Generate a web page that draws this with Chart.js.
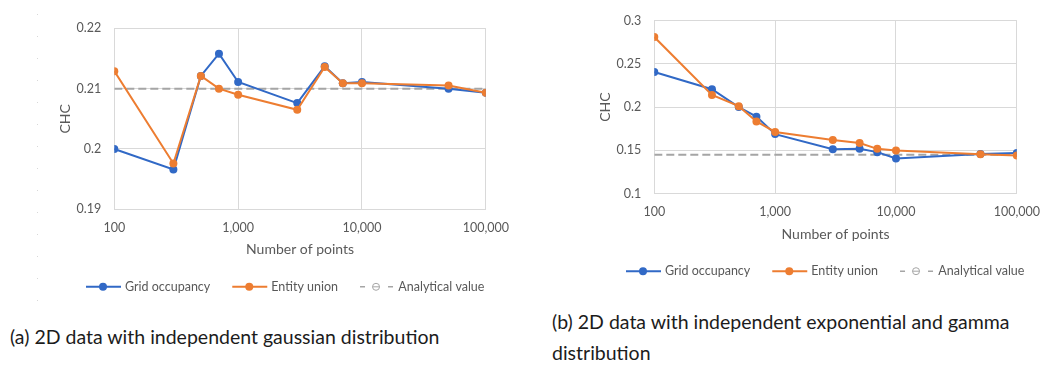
<!DOCTYPE html>
<html>
<head>
<meta charset="utf-8">
<script src="https://cdn.jsdelivr.net/npm/chart.js@4.4.1/dist/chart.umd.min.js"></script>
<style>
  html, body { margin: 0; padding: 0; background: #fff; }
  body { width: 1051px; height: 366px; position: relative; overflow: hidden; font-family: Lato, sans-serif; }
  .box { position: absolute; }
  .box canvas { display: block; }
  .cap { position: absolute; font-family: Lato, sans-serif; font-size: 19.5px; color: #1c1c1c; line-height: 31px; white-space: nowrap; }
  .dots { position: absolute; left: 37px; top: 14px; width: 1px; height: 292px;
          background: repeating-linear-gradient(to bottom, #d8d8d8 0 1px, transparent 1px 22px); }
</style>
</head>
<body>
<div class="dots"></div>
<div class="box" style="left:0;top:0;"><canvas id="chartA" width="520" height="310"></canvas></div>
<div class="box" style="left:540px;top:0;"><canvas id="chartB" width="511" height="300"></canvas></div>
<div class="cap" style="left:10px;top:321px;">(a) 2D data with independent gaussian distribution</div>
<div class="cap" style="left:552px;top:306px;">(b) 2D data with independent exponential and gamma<br>distribution</div>

<script>
// Sample sizes (number of points) shared by both experiments
const pointCounts = [100, 300, 500, 700, 1000, 3000, 5000, 7000, 10000, 50000, 100000];

// (a) independent gaussian distribution
const gridOccupancyA = [0.2000, 0.1966, 0.2121, 0.2158, 0.2111, 0.2076, 0.2137, 0.2109, 0.2111, 0.2100, 0.2093];
const entityUnionA   = [0.2129, 0.1976, 0.2121, 0.2100, 0.2090, 0.2065, 0.2136, 0.2109, 0.2109, 0.2105, 0.2093];
const analyticalA    = [0.2100, 0.2100];

// (b) independent exponential and gamma distribution
const gridOccupancyB = [0.2405, 0.2206, 0.2000, 0.1890, 0.1688, 0.1514, 0.1518, 0.1480, 0.1407, 0.1459, 0.1470];
const entityUnionB   = [0.2809, 0.2140, 0.2011, 0.1835, 0.1713, 0.1621, 0.1585, 0.1518, 0.1500, 0.1456, 0.1440];
const analyticalB    = [0.1450, 0.1450];

// The analytical reference spans the whole x range
const analyticalX = [100, 100000];

// Axis ticks
const xTickValues = [100, 1000, 10000, 100000];
const yTicksA = [0.19, 0.2, 0.21, 0.22];
const yTicksB = [0.1, 0.15, 0.2, 0.25, 0.3];

const seriesNames = ['Grid occupancy', 'Entity union', 'Analytical value'];

const BLUE = '#3169c6';
const ORANGE = '#ed7d31';
const GREY = '#a5a5a5';
const TEXT = '#595959';
const GRID = '#d9d9d9';

// Office-style legend: line + marker sample, drawn under the plot
const officeLegend = {
  id: 'officeLegend',
  afterDraw(chart) {
    const ctx = chart.ctx;
    const area = chart.chartArea;
    const y = area.bottom + 77.5;
    let x = area.left - 28.3;
    ctx.save();
    ctx.font = '12.5px Lato';
    ctx.textBaseline = 'middle';
    chart.data.datasets.forEach(ds => {
      if (ds.borderDash && ds.borderDash.length) {
        ctx.strokeStyle = ds.borderColor;
        ctx.lineWidth = 1.5;
        ctx.beginPath();
        ctx.moveTo(x, y); ctx.lineTo(x + 5, y);
        ctx.moveTo(x + 28, y); ctx.lineTo(x + 33, y);
        ctx.stroke();
        ctx.lineWidth = 1;
        ctx.beginPath();
        ctx.arc(x + 16, y, 3.5, 0, Math.PI * 2);
        ctx.stroke();
        ctx.beginPath();
        ctx.moveTo(x + 12.5, y); ctx.lineTo(x + 19.5, y);
        ctx.stroke();
        ctx.fillStyle = TEXT;
        ctx.fillText(ds.label, x + 38.3, y);
        x += 38.3 + ctx.measureText(ds.label).width + 22;
      } else {
        ctx.strokeStyle = ds.borderColor;
        ctx.lineWidth = 2;
        ctx.beginPath();
        ctx.moveTo(x, y); ctx.lineTo(x + 35, y);
        ctx.stroke();
        ctx.fillStyle = ds.borderColor;
        ctx.beginPath();
        ctx.arc(x + 17, y, 4, 0, Math.PI * 2);
        ctx.fill();
        ctx.fillStyle = TEXT;
        ctx.fillText(ds.label, x + 39, y);
        x += 39 + ctx.measureText(ds.label).width + 22;
      }
    });
    ctx.restore();
  }
};

function series(xs, ys) {
  return xs.map((x, i) => ({ x: x, y: ys[i] }));
}

function buildChart(id, gridVals, entityVals, analyticVals, yTicks, pad) {
  const lineStyle = (color) => ({
    borderColor: color, backgroundColor: color, pointBackgroundColor: color,
    pointBorderColor: color, borderWidth: 2, pointRadius: 4, pointBorderWidth: 0,
    tension: 0, fill: false
  });
  return new Chart(document.getElementById(id), {
    type: 'line',
    data: {
      datasets: [
        Object.assign({ label: seriesNames[0], data: series(pointCounts, gridVals), order: 2 }, lineStyle(BLUE)),
        Object.assign({ label: seriesNames[1], data: series(pointCounts, entityVals), order: 1 }, lineStyle(ORANGE)),
        { label: seriesNames[2], data: series(analyticalX, analyticVals), order: 3,
          borderColor: GREY, backgroundColor: GREY, borderWidth: 2, borderDash: [8, 4],
          pointRadius: 0, fill: false }
      ]
    },
    options: {
      responsive: false,
      animation: false,
      events: [],
      layout: { padding: { left: 0, right: pad.right, top: pad.top, bottom: pad.bottom } },
      plugins: { legend: { display: false }, tooltip: { enabled: false } },
      scales: {
        x: {
          type: 'logarithmic',
          min: xTickValues[0],
          max: xTickValues[xTickValues.length - 1],
          afterBuildTicks(scale) { scale.ticks = xTickValues.map(v => ({ value: v })); },
          afterFit(scale) { scale.height = 60; },
          ticks: {
            callback: v => Number(v).toLocaleString('en-US'),
            font: { family: 'Lato', size: 12.5 }, color: TEXT, padding: 11,
            maxRotation: 0, autoSkip: false
          },
          grid: { color: GRID, lineWidth: 1, drawTicks: false },
          border: { color: GRID },
          title: { display: true, text: 'Number of points', font: { family: 'Lato', size: 14 },
                   color: TEXT, padding: { top: 0, bottom: 11 } }
        },
        y: {
          min: yTicks[0],
          max: yTicks[yTicks.length - 1],
          afterBuildTicks(scale) { scale.ticks = yTicks.map(v => ({ value: v })); },
          afterFit(scale) { scale.width = 114.3; },
          ticks: {
            callback: v => String(v),
            font: { family: 'Lato', size: 12.5 }, color: TEXT, padding: 13
          },
          grid: { color: GRID, lineWidth: 1, drawTicks: false },
          border: { color: GRID },
          title: { display: true, text: 'CHC', font: { family: 'Lato', size: 14 },
                   color: TEXT, padding: { top: 57, bottom: 0 } }
        }
      }
    },
    plugins: [officeLegend]
  });
}

buildChart('chartA', gridOccupancyA, entityUnionA, analyticalA, yTicksA,
           { top: 28.3, bottom: 40.7, right: 30.7 });
buildChart('chartB', gridOccupancyB, entityUnionB, analyticalB, yTicksB,
           { top: 12.3, bottom: 46.3, right: 22 });
</script>
</body>
</html>
